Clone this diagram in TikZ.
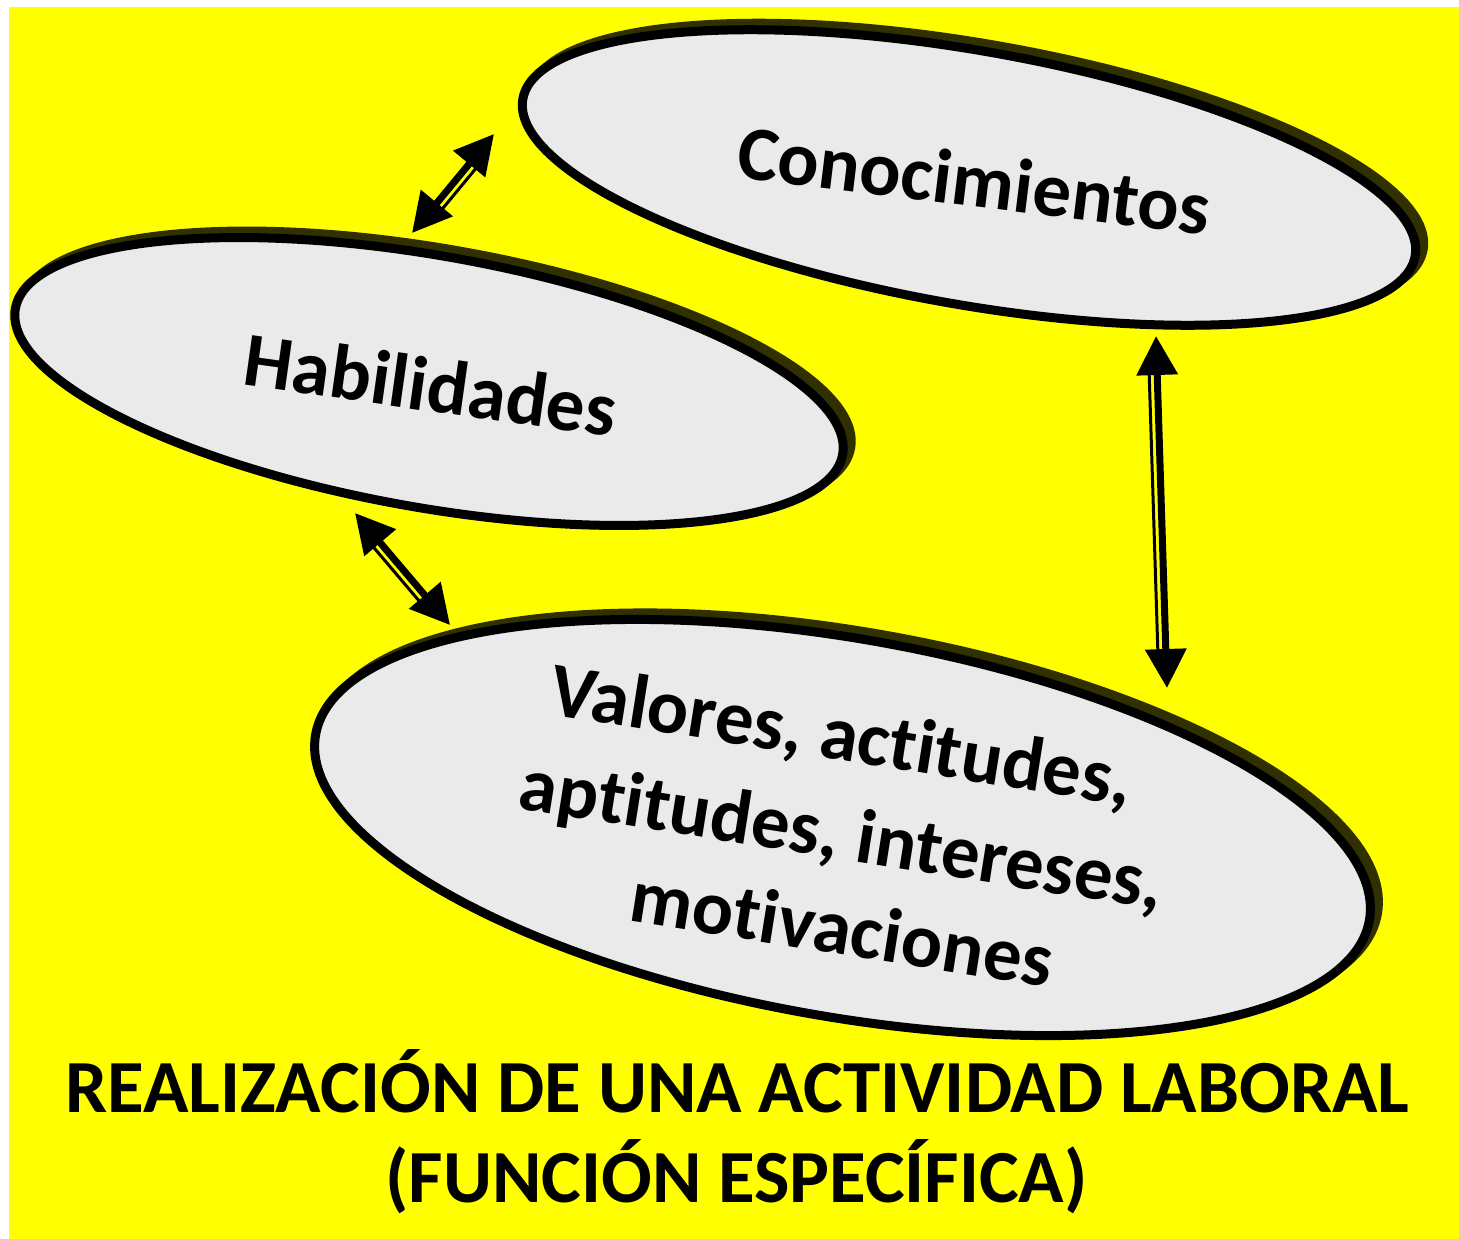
\documentclass[tikz,border=0pt]{standalone}
\usepackage{fontspec}
\newfontfamily\carl[Ligatures=NoCommon,RawFeature={-liga;-clig}]{Carlito}
\usetikzlibrary{shapes.geometric,arrows.meta,calc}
\definecolor{bgyellow}{RGB}{255,255,0}
\definecolor{ellgray}{RGB}{234,234,234}
\definecolor{rimcol}{RGB}{48,48,0}
\tikzset{
  ellbody/.style={ellipse, draw=black, line width=9pt, fill=ellgray, inner sep=0pt, rotate=-10},
  ellrim/.style={ellipse, draw=rimcol, line width=9pt, fill=rimcol, inner sep=0pt, rotate=-10},
  lbl/.style={font=\carl\bfseries\fontsize{77}{96}\selectfont, align=center, inner sep=0pt},
  ttl/.style={font=\carl\bfseries\fontsize{75}{90}\selectfont, inner sep=0pt},
  thickarr/.style={line width=7pt, {Triangle[length=39pt,width=40pt]}-{Triangle[length=39pt,width=40pt]}},
  thinline/.style={line width=3pt, shorten <=30pt, shorten >=30pt}
}
\begin{document}
\begin{tikzpicture}[x=1pt,y=-1pt]
\useasboundingbox (0,0) rectangle (1459,1239);
\fill[white] (0,0) rectangle (1459,1239);
\fill[bgyellow] (9,7) rectangle (1459,1239);

% rims (extrusion)
\node[ellrim, minimum width=906pt, minimum height=254pt] (conorim) at (977,171) {};
\node[ellrim, minimum width=840pt, minimum height=252pt] (habrim) at (437,375) {};
\node[ellrim, minimum width=1070pt, minimum height=378pt] (valrim) at (850.5,821) {};

% ellipses
\node[ellbody, minimum width=906pt, minimum height=254pt] (cono) at (969,177.5) {};
\node[ellbody, minimum width=840pt, minimum height=252pt] (hab) at (429,381.5) {};
\node[ellbody, minimum width=1070pt, minimum height=378pt] (val) at (842.5,827.5) {};

% labels
\node[lbl, rotate=-7, anchor=base] (tcono) at (971,206) {Conocimientos};
\node[lbl, rotate=-8, anchor=base] (thab) at (427,411) {Habilidades};
\node[lbl, rotate=-9, anchor=base] (tval1) at (838,760) {Valores, actitudes,};
\node[lbl, rotate=-9, anchor=base] (tval2) at (838,859) {aptitudes, intereses,};
\node[lbl, rotate=-9, anchor=base] (tval3) at (838,954) {motivaciones};

% title
\node[ttl, anchor=base] (t1) at (737.5,1112) {REALIZACIÓN DE UNA ACTIVIDAD LABORAL};
\node[ttl, anchor=base] (t2) at (736.5,1202) {(FUNCIÓN ESPECÍFICA)};

% arrows
\coordinate (a1) at (412,233); \coordinate (b1) at (494,134);
\coordinate (a2) at (355,513); \coordinate (b2) at (450,625);
\coordinate (a3) at (1156,336); \coordinate (b3) at (1167,688);
\foreach \p/\q in {a1/b1,a2/b2,a3/b3}{
  \draw[thickarr] (\p) -- (\q);
  \draw[thinline] ($(\p)!8pt!-90:(\q)$) -- ($(\q)!8pt!90:(\p)$);
}
\end{tikzpicture}
\end{document}
